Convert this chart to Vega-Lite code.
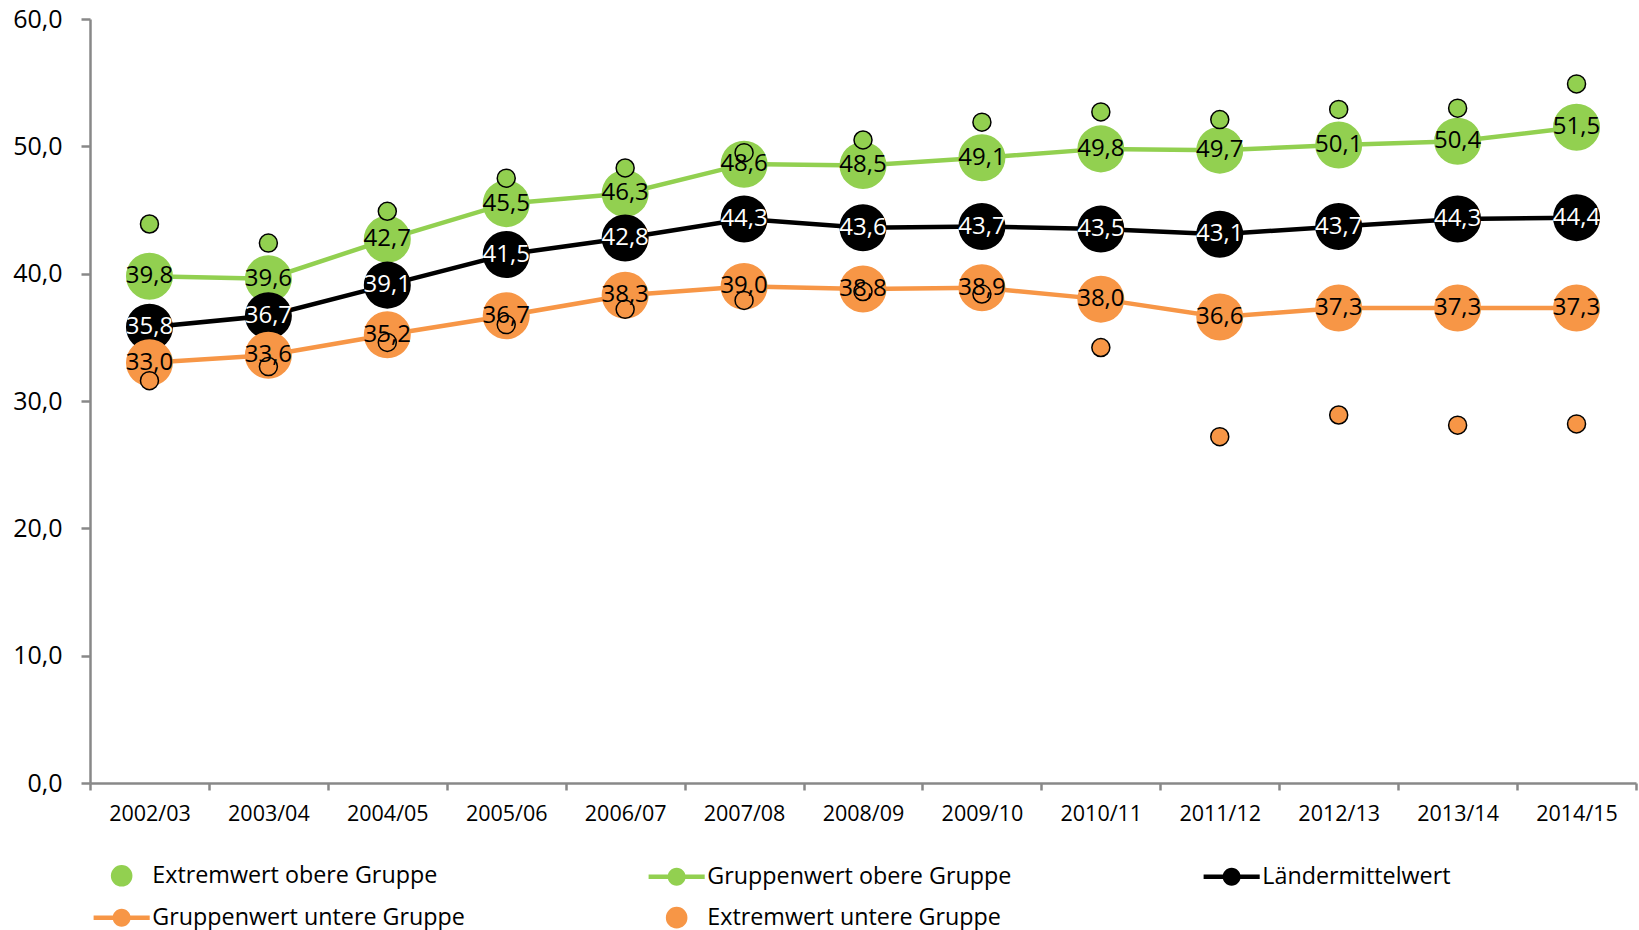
{
  "$schema": "https://vega.github.io/schema/vega-lite/v6.json",
  "width": 1546,
  "height": 764,
  "autosize": "none",
  "padding": {"left": 90, "top": 19, "right": 3, "bottom": 147},
  "config": {
    "view": {"stroke": null},
    "font": "Open Sans",
    "locale": {"number": {"decimal": ",", "thousands": ".", "grouping": [3], "currency": ["", " €"]}}
  },
  "data": {
    "values": [
      {"year": "2002/03", "series": "Gruppenwert obere Gruppe", "value": 39.8},
      {"year": "2003/04", "series": "Gruppenwert obere Gruppe", "value": 39.6},
      {"year": "2004/05", "series": "Gruppenwert obere Gruppe", "value": 42.7},
      {"year": "2005/06", "series": "Gruppenwert obere Gruppe", "value": 45.5},
      {"year": "2006/07", "series": "Gruppenwert obere Gruppe", "value": 46.3},
      {"year": "2007/08", "series": "Gruppenwert obere Gruppe", "value": 48.6},
      {"year": "2008/09", "series": "Gruppenwert obere Gruppe", "value": 48.5},
      {"year": "2009/10", "series": "Gruppenwert obere Gruppe", "value": 49.1},
      {"year": "2010/11", "series": "Gruppenwert obere Gruppe", "value": 49.8},
      {"year": "2011/12", "series": "Gruppenwert obere Gruppe", "value": 49.7},
      {"year": "2012/13", "series": "Gruppenwert obere Gruppe", "value": 50.1},
      {"year": "2013/14", "series": "Gruppenwert obere Gruppe", "value": 50.4},
      {"year": "2014/15", "series": "Gruppenwert obere Gruppe", "value": 51.5},
      {"year": "2002/03", "series": "Ländermittelwert", "value": 35.8},
      {"year": "2003/04", "series": "Ländermittelwert", "value": 36.7},
      {"year": "2004/05", "series": "Ländermittelwert", "value": 39.1},
      {"year": "2005/06", "series": "Ländermittelwert", "value": 41.5},
      {"year": "2006/07", "series": "Ländermittelwert", "value": 42.8},
      {"year": "2007/08", "series": "Ländermittelwert", "value": 44.3},
      {"year": "2008/09", "series": "Ländermittelwert", "value": 43.6},
      {"year": "2009/10", "series": "Ländermittelwert", "value": 43.7},
      {"year": "2010/11", "series": "Ländermittelwert", "value": 43.5},
      {"year": "2011/12", "series": "Ländermittelwert", "value": 43.1},
      {"year": "2012/13", "series": "Ländermittelwert", "value": 43.7},
      {"year": "2013/14", "series": "Ländermittelwert", "value": 44.3},
      {"year": "2014/15", "series": "Ländermittelwert", "value": 44.4},
      {"year": "2002/03", "series": "Gruppenwert untere Gruppe", "value": 33.0},
      {"year": "2003/04", "series": "Gruppenwert untere Gruppe", "value": 33.6},
      {"year": "2004/05", "series": "Gruppenwert untere Gruppe", "value": 35.2},
      {"year": "2005/06", "series": "Gruppenwert untere Gruppe", "value": 36.7},
      {"year": "2006/07", "series": "Gruppenwert untere Gruppe", "value": 38.3},
      {"year": "2007/08", "series": "Gruppenwert untere Gruppe", "value": 39.0},
      {"year": "2008/09", "series": "Gruppenwert untere Gruppe", "value": 38.8},
      {"year": "2009/10", "series": "Gruppenwert untere Gruppe", "value": 38.9},
      {"year": "2010/11", "series": "Gruppenwert untere Gruppe", "value": 38.0},
      {"year": "2011/12", "series": "Gruppenwert untere Gruppe", "value": 36.6},
      {"year": "2012/13", "series": "Gruppenwert untere Gruppe", "value": 37.3},
      {"year": "2013/14", "series": "Gruppenwert untere Gruppe", "value": 37.3},
      {"year": "2014/15", "series": "Gruppenwert untere Gruppe", "value": 37.3},
      {"year": "2002/03", "series": "Extremwert obere Gruppe", "value": 43.9},
      {"year": "2003/04", "series": "Extremwert obere Gruppe", "value": 42.4},
      {"year": "2004/05", "series": "Extremwert obere Gruppe", "value": 44.9},
      {"year": "2005/06", "series": "Extremwert obere Gruppe", "value": 47.5},
      {"year": "2006/07", "series": "Extremwert obere Gruppe", "value": 48.3},
      {"year": "2007/08", "series": "Extremwert obere Gruppe", "value": 49.5},
      {"year": "2008/09", "series": "Extremwert obere Gruppe", "value": 50.5},
      {"year": "2009/10", "series": "Extremwert obere Gruppe", "value": 51.9},
      {"year": "2010/11", "series": "Extremwert obere Gruppe", "value": 52.7},
      {"year": "2011/12", "series": "Extremwert obere Gruppe", "value": 52.1},
      {"year": "2012/13", "series": "Extremwert obere Gruppe", "value": 52.9},
      {"year": "2013/14", "series": "Extremwert obere Gruppe", "value": 53.0},
      {"year": "2014/15", "series": "Extremwert obere Gruppe", "value": 54.9},
      {"year": "2002/03", "series": "Extremwert untere Gruppe", "value": 31.6},
      {"year": "2003/04", "series": "Extremwert untere Gruppe", "value": 32.7},
      {"year": "2004/05", "series": "Extremwert untere Gruppe", "value": 34.6},
      {"year": "2005/06", "series": "Extremwert untere Gruppe", "value": 36.0},
      {"year": "2006/07", "series": "Extremwert untere Gruppe", "value": 37.2},
      {"year": "2007/08", "series": "Extremwert untere Gruppe", "value": 37.9},
      {"year": "2008/09", "series": "Extremwert untere Gruppe", "value": 38.6},
      {"year": "2009/10", "series": "Extremwert untere Gruppe", "value": 38.4},
      {"year": "2010/11", "series": "Extremwert untere Gruppe", "value": 34.2},
      {"year": "2011/12", "series": "Extremwert untere Gruppe", "value": 27.2},
      {"year": "2012/13", "series": "Extremwert untere Gruppe", "value": 28.9},
      {"year": "2013/14", "series": "Extremwert untere Gruppe", "value": 28.1},
      {"year": "2014/15", "series": "Extremwert untere Gruppe", "value": 28.2}
    ]
  },
  "encoding": {
    "x": {
      "field": "year", "type": "ordinal", "bandPosition": 0.5,
      "scale": {"type": "band", "paddingInner": 0, "paddingOuter": 0},
      "axis": {
        "title": null, "labelAngle": 0, "tickBand": "extent", "tickSize": 7,
        "labelFontSize": 21.5, "labelPadding": 13, "labelColor": "black",
        "domainColor": "#888888", "domainWidth": 2.5, "tickColor": "#888888", "tickWidth": 2.5
      }
    },
    "y": {
      "field": "value", "type": "quantitative",
      "scale": {"domain": [0, 60], "nice": false, "zero": true},
      "axis": {
        "title": null, "grid": false, "values": [0, 10, 20, 30, 40, 50, 60], "format": ".1f",
        "tickSize": 9, "labelFontSize": 25, "labelPadding": 19, "labelColor": "black",
        "domainColor": "#888888", "domainWidth": 2.5, "tickColor": "#888888", "tickWidth": 2.5
      }
    },
    "color": {
      "field": "series", "type": "nominal",
      "scale": {
        "domain": ["Extremwert obere Gruppe", "Gruppenwert obere Gruppe", "Ländermittelwert", "Gruppenwert untere Gruppe", "Extremwert untere Gruppe"],
        "range": ["#92D050", "#92D050", "#000000", "#F79646", "#F79646"]
      },
      "legend": {
        "title": null, "orient": "none", "direction": "horizontal", "legendX": 20, "legendY": 845,
        "columns": 3, "gridAlign": "all", "columnPadding": 183, "rowPadding": 15,
        "symbolSize": 900, "labelOffset": 19, "labelFont": "Open Sans", "labelFontSize": 23.3,
        "labelColor": "black", "labelLimit": 0,
        "symbolStrokeColor": "black", "symbolStrokeWidth": 1.5,
        "encode": {
          "symbols": {
            "update": {
              "shape": {"signal": "indexof(['Extremwert obere Gruppe','Extremwert untere Gruppe'], datum.value) >= 0 ? 'M-0.67,0A0.67,0.67 0 1,1 0.67,0A0.67,0.67 0 1,1 -0.67,0Z' : 'M-1.87,-0.15H1.87V0.15H-1.87Z M-0.6,0A0.6,0.6 0 1,1 0.6,0A0.6,0.6 0 1,1 -0.6,0Z'"},
              "fill": {"signal": "scale('color', datum.value)"},
              "stroke": {"signal": "indexof(['Extremwert obere Gruppe','Extremwert untere Gruppe'], datum.value) >= 0 ? 'black' : 'transparent'"},
              "strokeWidth": {"signal": "indexof(['Extremwert obere Gruppe','Extremwert untere Gruppe'], datum.value) >= 0 ? 1.5 : 0"},
              "opacity": {"value": 1},
              "fillOpacity": {"value": 1},
              "strokeOpacity": {"value": 1}
            }
          }
        }
      }
    }
  },
  "layer": [
    {
      "transform": [{"filter": "indexof(datum.series, 'Extremwert') < 0"}],
      "mark": {"type": "line", "strokeWidth": 4.5}
    },
    {
      "transform": [{"filter": "indexof(datum.series, 'Extremwert') < 0"}],
      "mark": {"type": "point", "shape": "circle", "filled": true, "size": 2209, "opacity": 1}
    },
    {
      "transform": [{"filter": "indexof(datum.series, 'Extremwert') >= 0"}],
      "mark": {"type": "point", "shape": "circle", "filled": true, "size": 324, "opacity": 1, "stroke": "black", "strokeWidth": 1.5}
    },
    {
      "transform": [{"filter": "indexof(datum.series, 'Extremwert') < 0"}],
      "mark": {"type": "text", "fontSize": 24, "font": "Open Sans", "baseline": "middle", "align": "center"},
      "encoding": {
        "text": {"field": "value", "type": "quantitative", "format": ".1f"},
        "color": {
          "condition": {"test": "datum.series === 'Ländermittelwert'", "value": "white"},
          "value": "black"
        }
      }
    }
  ]
}
